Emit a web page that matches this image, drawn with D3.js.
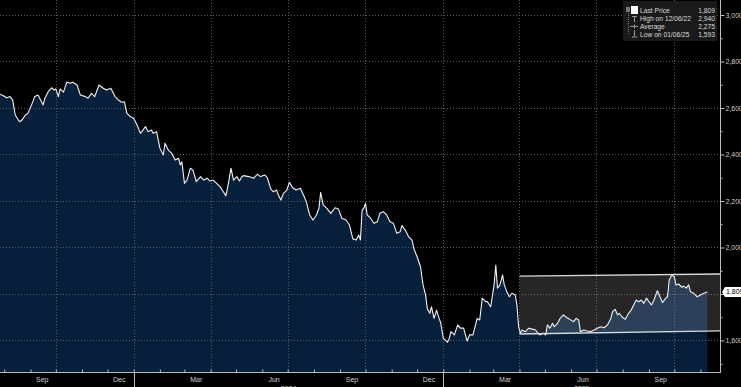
<!DOCTYPE html>
<html><head><meta charset="utf-8">
<script src="https://cdn.jsdelivr.net/npm/d3@7"></script>
<style>
html,body{margin:0;padding:0;background:#000;overflow:hidden;}
svg{display:block;font-family:"Liberation Sans",Arial,sans-serif;}
</style></head>
<body><svg id="c" width="741" height="387"></svg>
<script>
const dates = ["2023-07-27","2023-07-31","2023-08-04","2023-08-08","2023-08-11","2023-08-14","2023-08-19","2023-08-22","2023-08-26","2023-08-29","2023-09-03","2023-09-06","2023-09-10","2023-09-16","2023-09-18","2023-09-22","2023-09-26","2023-09-29","2023-10-01","2023-10-04","2023-10-06","2023-10-10","2023-10-14","2023-10-18","2023-10-21","2023-10-26","2023-10-30","2023-11-05","2023-11-08","2023-11-12","2023-11-16","2023-11-21","2023-11-26","2023-11-30","2023-12-05","2023-12-10","2023-12-14","2023-12-18","2023-12-21","2023-12-24","2023-12-28","2024-01-01","2024-01-05","2024-01-09","2024-01-15","2024-01-18","2024-01-22","2024-01-24","2024-01-28","2024-02-01","2024-02-05","2024-02-07","2024-02-11","2024-02-15","2024-02-19","2024-02-23","2024-02-25","2024-02-27","2024-03-01","2024-03-04","2024-03-08","2024-03-11","2024-03-15","2024-03-20","2024-03-24","2024-03-28","2024-03-31","2024-04-04","2024-04-08","2024-04-12","2024-04-16","2024-04-19","2024-04-22","2024-04-25","2024-04-28","2024-05-02","2024-05-05","2024-05-08","2024-05-10","2024-05-16","2024-05-22","2024-05-26","2024-05-30","2024-06-04","2024-06-07","2024-06-11","2024-06-14","2024-06-18","2024-06-20","2024-06-23","2024-06-26","2024-06-30","2024-07-03","2024-07-07","2024-07-11","2024-07-16","2024-07-20","2024-07-23","2024-07-27","2024-07-31","2024-08-04","2024-08-07","2024-08-09","2024-08-12","2024-08-16","2024-08-21","2024-08-26","2024-08-30","2024-09-03","2024-09-08","2024-09-12","2024-09-16","2024-09-20","2024-09-23","2024-09-25","2024-09-27","2024-09-29","2024-10-01","2024-10-03","2024-10-07","2024-10-11","2024-10-15","2024-10-18","2024-10-22","2024-10-26","2024-10-30","2024-11-03","2024-11-07","2024-11-11","2024-11-13","2024-11-17","2024-11-21","2024-11-25","2024-11-27","2024-12-01","2024-12-05","2024-12-08","2024-12-11","2024-12-13","2024-12-16","2024-12-18","2024-12-21","2024-12-24","2024-12-27","2024-12-29","2025-01-01","2025-01-06","2025-01-08","2025-01-10","2025-01-14","2025-01-18","2025-01-21","2025-01-25","2025-01-29","2025-02-01","2025-02-05","2025-02-10","2025-02-13","2025-02-16","2025-02-20","2025-02-22","2025-02-26","2025-03-01","2025-03-02","2025-03-04","2025-03-06","2025-03-09","2025-03-12","2025-03-14","2025-03-17","2025-03-20","2025-03-23","2025-03-27","2025-03-29","2025-03-31","2025-04-02","2025-04-04","2025-04-08","2025-04-12","2025-04-16","2025-04-20","2025-04-23","2025-04-25","2025-04-29","2025-05-02","2025-05-04","2025-05-07","2025-05-10","2025-05-12","2025-05-16","2025-05-19","2025-05-23","2025-05-27","2025-05-30","2025-06-04","2025-06-07","2025-06-10","2025-06-12","2025-06-16","2025-06-20","2025-06-24","2025-06-28","2025-07-02","2025-07-06","2025-07-10","2025-07-14","2025-07-18","2025-07-20","2025-07-23","2025-07-26","2025-07-28","2025-07-31","2025-08-04","2025-08-08","2025-08-11","2025-08-14","2025-08-17","2025-08-20","2025-08-23","2025-08-26","2025-08-29","2025-09-01","2025-09-04","2025-09-07","2025-09-11","2025-09-14","2025-09-17","2025-09-21","2025-09-23","2025-09-25","2025-09-28","2025-10-01","2025-10-03","2025-10-06","2025-10-10","2025-10-12","2025-10-15","2025-10-18","2025-10-20","2025-10-24","2025-10-28","2025-11-01","2025-11-05","2025-11-09"];
const prices = [2659,2653,2644,2649,2634,2570,2541,2548,2570,2577,2620,2649,2656,2613,2642,2670,2687,2677,2682,2649,2682,2668,2711,2706,2711,2699,2656,2649,2642,2663,2649,2699,2685,2677,2685,2649,2634,2625,2627,2577,2563,2556,2527,2491,2520,2498,2505,2491,2498,2427,2398,2448,2419,2405,2376,2384,2355,2369,2276,2290,2341,2333,2283,2305,2290,2298,2286,2290,2276,2262,2240,2222,2276,2341,2290,2305,2286,2305,2309,2305,2298,2315,2305,2312,2300,2252,2240,2247,2226,2204,2233,2247,2280,2257,2247,2255,2223,2197,2140,2118,2140,2169,2237,2183,2169,2147,2171,2166,2126,2118,2097,2037,2032,2054,2032,2161,2169,2190,2140,2126,2104,2111,2147,2154,2140,2111,2104,2061,2068,2094,2075,2046,2032,1997,1960,1917,1839,1796,1738,1717,1745,1695,1731,1695,1674,1609,1593,1609,1638,1624,1667,1653,1653,1598,1624,1624,1695,1688,1782,1767,1767,1745,1817,1839,1925,1825,1839,1882,1839,1810,1788,1803,1796,1753,1659,1631,1645,1638,1653,1649,1645,1631,1624,1631,1624,1667,1653,1674,1659,1674,1695,1710,1698,1692,1681,1695,1688,1638,1645,1641,1638,1645,1653,1659,1655,1667,1695,1724,1734,1710,1717,1702,1691,1717,1731,1753,1774,1767,1774,1760,1782,1767,1753,1774,1814,1788,1763,1782,1788,1860,1882,1874,1839,1843,1829,1834,1825,1839,1810,1803,1788,1796,1803,1809];

const channelDates = ["2025-04-01","2025-11-24"];
const channelUpper = [1877,1886];
const channelLower = [1628,1641];

const yTicks = [1600,1800,2000,2200,2400,2600,2800,3000];
const yMinorTicks = [1500,1700,1900,2100,2300,2500,2700,2900];
const monthLabels = ["Sep","Dec","Mar","Jun","Sep","Dec","Mar","Jun","Sep"];
const monthLabelDates = ["2023-09-15","2023-12-15","2024-03-15","2024-06-15","2024-09-15","2024-12-15","2025-03-15","2025-06-15","2025-09-15"];
const gridDates = ["2023-10-01","2024-01-01","2024-04-01","2024-07-01","2024-10-01","2025-01-01","2025-04-01","2025-07-01","2025-10-01"];
const yearLabels = ["2024","2025"];
const yearStarts = ["2024-01-01","2025-01-01"];

const legendLabels = ["Last Price","High on 12/06/22","Average","Low on 01/06/25"];
const legendValues = ["1,809","2,940","2,275","1,593"];
const lastPrice = 1809;

const parse = d3.timeParse("%Y-%m-%d");
const data = dates.map((d,i)=>({date:parse(d), v:prices[i]}));

const W = 741, H = 387;
const plotR = 720, plotB = 372;
const svg = d3.select("#c");

const x = d3.scaleTime().domain([parse("2023-07-27"), parse("2025-11-24")]).range([0, plotR]);
const y = d3.scaleLinear().domain([1464.5, 3064.5]).range([plotB, 0]);

svg.append("rect").attr("width",W).attr("height",H).attr("fill","#000");

// area
const area = d3.area().x(d=>x(d.date)).y0(plotB).y1(d=>y(d.v)).curve(d3.curveLinear);
svg.append("path").datum(data).attr("d",area).attr("fill","#06203c");

// gridlines
const grid = svg.append("g");
grid.selectAll("line.h").data(yTicks).join("line")
  .attr("x1",0).attr("x2",plotR).attr("y1",d=>Math.round(y(d))+0.5).attr("y2",d=>Math.round(y(d))+0.5)
  .attr("stroke","#5a5a5a").attr("stroke-width",1).attr("stroke-dasharray","1,2");
grid.selectAll("line.v").data(gridDates).join("line")
  .attr("x1",d=>Math.round(x(parse(d)))+0.5).attr("x2",d=>Math.round(x(parse(d)))+0.5)
  .attr("y1",0).attr("y2",plotB)
  .attr("stroke","#5a5a5a").attr("stroke-width",1).attr("stroke-dasharray","1,2");

// channel box
const ch = channelDates.map((d,i)=>({date:parse(d), hi:channelUpper[i], lo:channelLower[i]}));
const chArea = d3.area().x(d=>x(d.date)).y0(d=>y(d.lo)).y1(d=>y(d.hi));
svg.append("path").datum(ch).attr("d",chArea).attr("fill","#fff").attr("fill-opacity",0.15);

// price line
const line = d3.line().x(d=>x(d.date)).y(d=>y(d.v));
svg.append("path").datum(data).attr("d",line).attr("fill","none").attr("stroke","#f2f2f2").attr("stroke-width",1.1).attr("stroke-linejoin","round");

// channel lines
const upLine = d3.line().x(d=>x(d.date)).y(d=>y(d.hi));
const loLine = d3.line().x(d=>x(d.date)).y(d=>y(d.lo));
svg.append("path").datum(ch).attr("d",upLine).attr("stroke","#d8d8d8").attr("stroke-width",1.3).attr("fill","none");
svg.append("path").datum(ch).attr("d",loLine).attr("stroke","#d8d8d8").attr("stroke-width",1.3).attr("fill","none");

// y axis (the 1,800 label is replaced by the last-price tag)
const fmt = d3.format(",");
const yAxis = d3.axisRight(y).tickValues(yTicks).tickFormat(d => d === 1800 ? "" : fmt(d)).tickSize(4).tickPadding(1);
const ya = svg.append("g").attr("transform",`translate(${plotR+0.5},0)`).call(yAxis);
ya.select(".domain").attr("stroke","#bdbdbd").attr("d",`M0,0V${plotB+1}`);
ya.selectAll(".tick line").attr("stroke","#bdbdbd");
ya.selectAll(".tick text").attr("fill","#cfcfcf").attr("font-size","7px").attr("font-family","Liberation Sans, Arial, sans-serif");
const yMinor = d3.axisRight(y).tickValues(yMinorTicks).tickSize(2).tickFormat("");
const ym = svg.append("g").attr("transform",`translate(${plotR+0.5},0)`).call(yMinor);
ym.select(".domain").remove();
ym.selectAll(".tick line").attr("stroke","#bdbdbd");

// x axis
const monthTicks = d3.timeMonth.range(parse("2023-08-01"), parse("2025-11-24"));
const xAxis = d3.axisTop(x).tickValues(monthTicks).tickSize(3).tickFormat("");
const xa = svg.append("g").attr("transform",`translate(0,${plotB+0.5})`).call(xAxis);
xa.select(".domain").attr("stroke","#bdbdbd").attr("d",`M0,0H${plotR+1}`);
xa.selectAll(".tick line").attr("stroke","#bdbdbd");

svg.append("g").selectAll("text").data(monthLabels).join("text")
  .attr("x",(d,i)=>x(parse(monthLabelDates[i]))).attr("y",382)
  .attr("text-anchor","middle").attr("fill","#cfcfcf").attr("font-size","7px").text(d=>d);
svg.append("g").selectAll("line").data(yearStarts).join("line")
  .attr("x1",d=>Math.round(x(parse(d)))+0.5).attr("x2",d=>Math.round(x(parse(d)))+0.5)
  .attr("y1",plotB+1).attr("y2",H).attr("stroke","#bdbdbd");
const xEnd = x.domain()[1];
svg.append("g").selectAll("text").data(yearLabels).join("text")
  .attr("x",(d,i)=>{const s=x(parse(yearStarts[i])); const e = i+1<yearStarts.length ? x(parse(yearStarts[i+1])) : x(xEnd); return (s+e)/2;})
  .attr("y",391).attr("text-anchor","middle").attr("fill","#cfcfcf").attr("font-size","7px").text(d=>d);

// last price tag
const ly = y(lastPrice);
svg.append("path").attr("d",`M${plotR+2},${ly} L${plotR+5},${ly-5} H${W} V${ly+5} H${plotR+5} Z`).attr("fill","#fff");
svg.append("text").attr("x",plotR+6).attr("y",ly+2.5).attr("fill","#000").attr("font-size","7px").text(fmt(lastPrice));

// legend
const lg = svg.append("g");
lg.append("rect").attr("x",623).attr("y",1).attr("width",94).attr("height",40).attr("fill","#1b1b1b").attr("fill-opacity",0.95);
const rowY = [10,18.5,26.5,34.5];
lg.selectAll("text.l").data(legendLabels).join("text")
  .attr("x",640).attr("y",(d,i)=>rowY[i]+2.5).attr("fill","#dcdcdc").attr("font-size","6.7px").text(d=>d);
lg.selectAll("text.v").data(legendValues).join("text")
  .attr("x",715).attr("y",(d,i)=>rowY[i]+2.5).attr("text-anchor","end").attr("fill","#dcdcdc").attr("font-size","6.7px").text(d=>d);
// icons
lg.append("rect").attr("x",626).attr("y",7).attr("width",4).attr("height",5).attr("fill","#777");
lg.append("rect").attr("x",631).attr("y",6).attr("width",7).attr("height",8).attr("fill","#fff");
lg.append("line").attr("x1",628.5).attr("x2",628.5).attr("y1",13).attr("y2",35).attr("stroke","#777").attr("stroke-dasharray","1,1");
lg.append("line").attr("x1",632).attr("x2",637).attr("y1",16.5).attr("y2",16.5).attr("stroke","#999");
lg.append("line").attr("x1",634.5).attr("x2",634.5).attr("y1",16.5).attr("y2",22).attr("stroke","#999");
lg.append("line").attr("x1",630).attr("x2",638).attr("y1",26.5).attr("y2",26.5).attr("stroke","#999");
lg.append("line").attr("x1",634.5).attr("x2",634.5).attr("y1",24.5).attr("y2",28.5).attr("stroke","#999");
lg.append("line").attr("x1",634.5).attr("x2",634.5).attr("y1",30).attr("y2",36).attr("stroke","#999");
lg.append("line").attr("x1",632).attr("x2",637).attr("y1",37).attr("y2",37).attr("stroke","#999");
</script></body></html>
